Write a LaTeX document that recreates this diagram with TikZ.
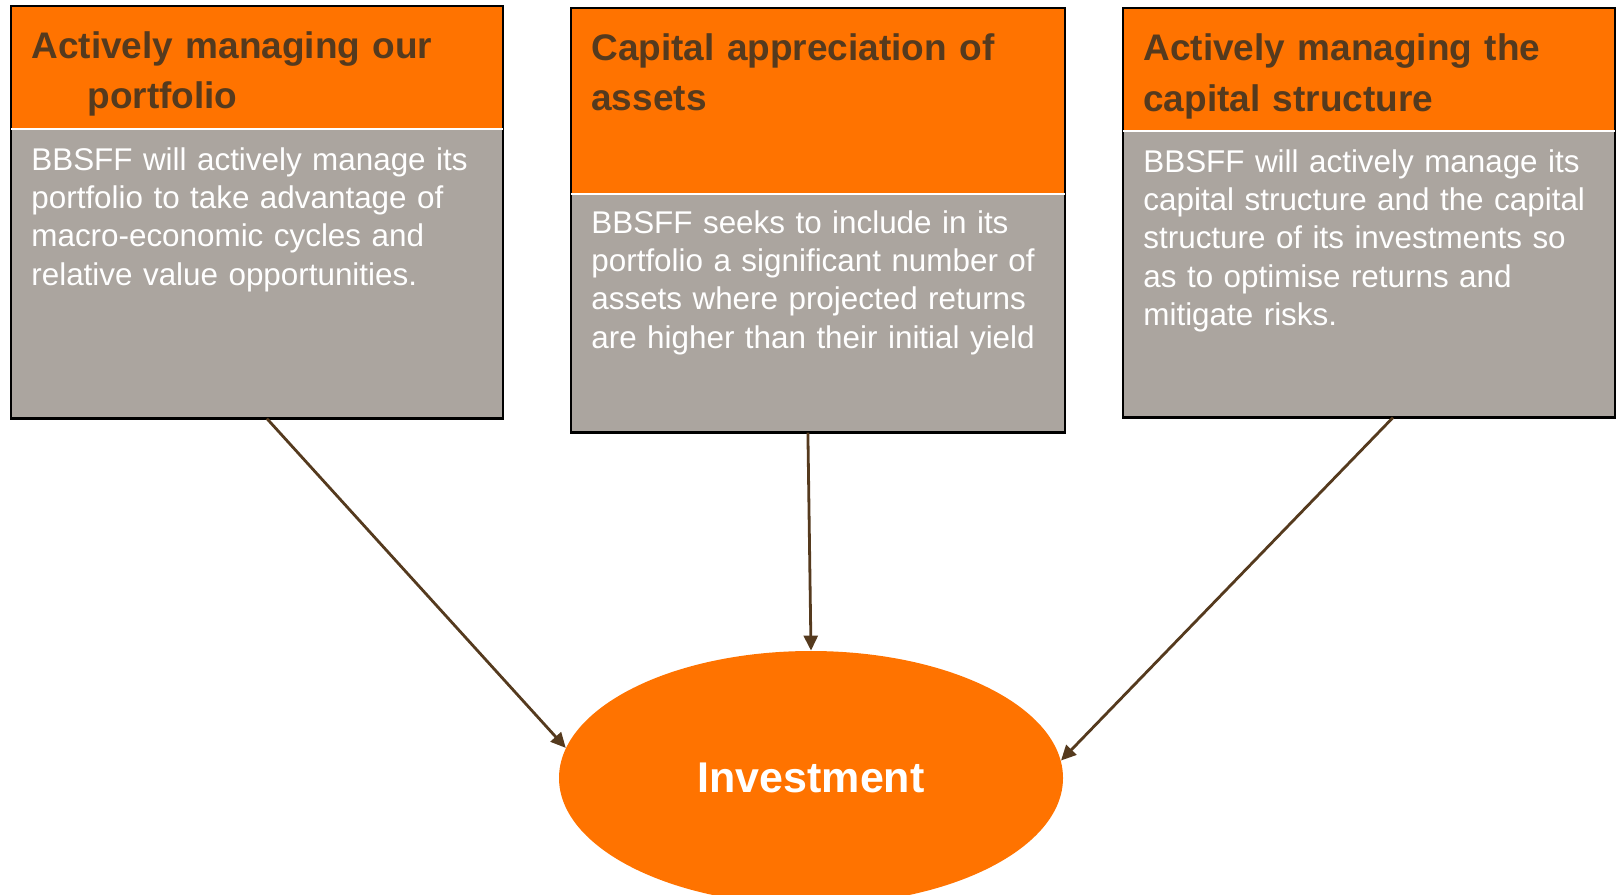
\documentclass[tikz,border=0pt]{standalone}
\usepackage{fontspec}
\setmainfont{Liberation Sans}
\usetikzlibrary{arrows.meta,shapes.geometric}
\definecolor{bborange}{HTML}{FF7300}
\definecolor{bbgrey}{HTML}{ABA59F}
\definecolor{bbbrown}{HTML}{553A1E}
\begin{document}
\begin{tikzpicture}[x=0.5pt,y=-0.5pt,
    head/.style={anchor=north west,fill=bborange,inner sep=0pt},
    body/.style={anchor=north west,fill=bbgrey,inner sep=0pt},
    headtxt/.style={anchor=base west,inner sep=0pt,text width=240pt,align=left,
        text=bbbrown,font=\bfseries\fontsize{18.5}{25}\selectfont},
    bodytxt/.style={anchor=base west,inner sep=0pt,text width=245pt,align=left,
        text=white,font=\fontsize{15.7}{19.2}\selectfont},
    frame/.style={draw=black,line width=1.3pt},
    split/.style={draw=white,line width=1pt},
    link/.style={-{Triangle[length=7.5pt,width=7pt]},draw=bbbrown,line width=1.4pt}]
    \useasboundingbox (0,0) rectangle (1616,894);
    \path
    (11,6)    node[head,minimum width=245.5pt,minimum height=61pt] (h1) {}
    (571,8)   node[head,minimum width=246.5pt,minimum height=92.5pt] (h2) {}
    (1123,8)  node[head,minimum width=245.5pt,minimum height=61pt] (h3) {};
    \path
    (h1.south west) node[body,minimum width=245.5pt,minimum height=144.5pt] (b1) {}
    (h2.south west) node[body,minimum width=246.5pt,minimum height=119pt] (b2) {}
    (h3.south west) node[body,minimum width=245.5pt,minimum height=143pt] (b3) {};
    \foreach \n in {1,2,3}{
        \draw[frame] (h\n.north west) rectangle (b\n.south east);
        \draw[split] (h\n.south west) -- (h\n.south east);
    }
    \node[headtxt] (t1) at (31,58) {Actively managing our\\\hspace*{28pt}portfolio};
    \node[headtxt] (t2) at (591,60) {Capital appreciation of\\assets};
    \node[headtxt] (t3) at (1143,61) {Actively managing the\\capital structure};
    \node[bodytxt] (d1) at (31,170) {BBSFF will actively manage its\\portfolio to take advantage of\\macro-economic cycles and\\relative value opportunities.};
    \node[bodytxt] (d2) at (591,233) {BBSFF seeks to include in its\\portfolio a significant number of\\assets where projected returns\\are higher than their initial yield};
    \node[bodytxt] (d3) at (1143,172) {BBSFF will actively manage its\\capital structure and the capital\\structure of its investments so\\as to optimise returns and\\mitigate risks.};
    \node[ellipse,fill=bborange,minimum width=252pt,minimum height=127pt,inner sep=0pt,
        text=white,font=\bfseries\fontsize{21.5}{26}\selectfont] (inv) at (811,778) {Investment};
    \draw[link] ([xshift=5pt]b1.south) -- (inv.173);
    \draw[link] ([xshift=-5pt]b2.south) -- (inv.north);
    \draw[link] ([xshift=12pt]b3.south) -- (inv.4);
\end{tikzpicture}
\end{document}
